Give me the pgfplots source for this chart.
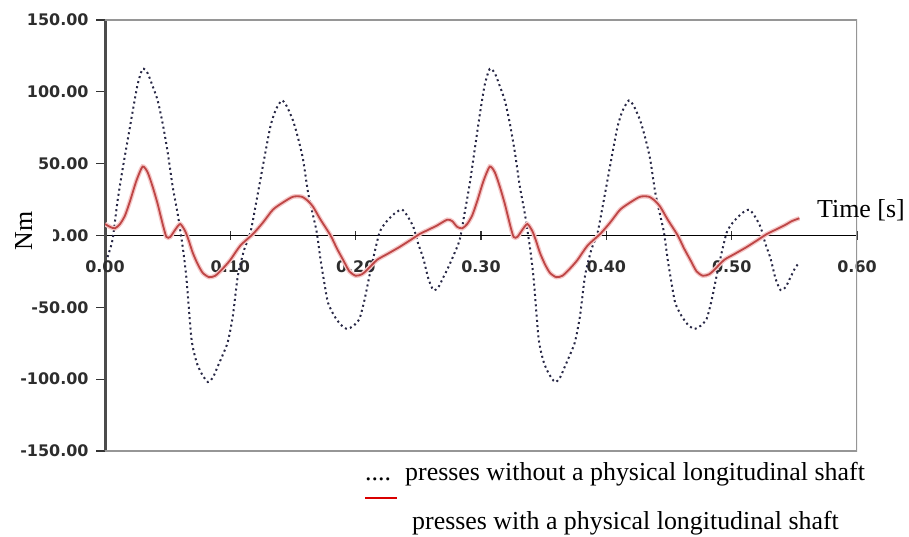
\documentclass[border=0pt]{standalone}
\usepackage{pgfplots}
\pgfplotsset{compat=1.18}
\usepackage{fontspec}
\setmainfont{Liberation Serif}
\newfontfamily\tickfont{DejaVu Sans}
\definecolor{dotcol}{RGB}{40,40,70}
\definecolor{redcol}{RGB}{190,70,70}
\definecolor{halo}{RGB}{245,200,200}
\definecolor{framecol}{RGB}{150,150,150}
\definecolor{tickcol}{RGB}{45,45,45}
\begin{document}
\begin{tikzpicture}[x=1bp,y=1bp]
\begin{axis}[
  at={(105bp,-451bp)}, anchor=south west,
  scale only axis, width=752bp, height=431bp,
  xmin=0, xmax=0.6, ymin=-150, ymax=150,
  axis x line=middle, axis y line=left,
  x axis line style={-, black, line width=1.4bp},
  y axis line style={-, black!70, line width=3bp},
  hide obscured x ticks=false, hide obscured y ticks=false,
  xtick={0,0.1,0.2,0.3,0.4,0.5,0.6},
  ytick={-150,-100,-50,0,50,100,150},
  xtick align=center, ytick align=outside,
  major tick length=9bp,
  tick style={black!80, line width=1.2bp},
  xticklabel style={anchor=center, yshift=-27bp, font=\tickfont\bfseries\fontsize{16}{16}\selectfont, text=tickcol},
  yticklabel style={anchor=east, xshift=-4bp, font=\tickfont\bfseries\fontsize{16}{16}\selectfont, text=tickcol},
  /pgf/number format/.cd, fixed, fixed zerofill, precision=2, assume math mode=true,
]
\draw[framecol, line width=2.2bp] (rel axis cs:0,0) -- (rel axis cs:1,0) -- (rel axis cs:1,1) -- (rel axis cs:0,1);
\addplot[dotcol, line width=2bp, dash pattern=on 2bp off 3.2bp, smooth, tension=0.4] coordinates {
(0.002,-15) (0.006,-3) (0.010,24) (0.014,46) (0.018,66) (0.022,86) (0.026,105) (0.030,116)
(0.034,113) (0.038,104) (0.042,94) (0.046,78) (0.050,58) (0.054,34) (0.058,15) (0.062,-8)
(0.065,-30) (0.069,-72) (0.073,-88) (0.077,-96) (0.082,-102) (0.086,-99) (0.090,-91) (0.094,-83)
(0.098,-74) (0.102,-56) (0.106,-28) (0.111,-10) (0.116,2) (0.120,20) (0.124,39) (0.128,58)
(0.132,76) (0.136,87) (0.141,94) (0.145,90) (0.150,80) (0.154,68) (0.158,53) (0.162,30)
(0.166,14) (0.169,2) (0.172,-17) (0.175,-33) (0.178,-47) (0.183,-56) (0.188,-62) (0.193,-65)
(0.198,-63) (0.203,-58) (0.207,-45) (0.211,-28) (0.215,-12) (0.219,2) (0.223,8) (0.227,12)
(0.232,16) (0.237,18) (0.241,14) (0.246,6) (0.250,-6) (0.254,-16) (0.258,-30) (0.262,-38)
(0.266,-36) (0.270,-29) (0.274,-22) (0.278,-14) (0.283,-3) (0.287,16) (0.291,36) (0.295,60)
(0.299,84) (0.303,105) (0.307,116) (0.311,113) (0.315,104) (0.319,94) (0.323,78) (0.327,58)
(0.331,34) (0.335,15) (0.339,-8) (0.342,-30) (0.346,-72) (0.350,-88) (0.354,-96) (0.359,-102)
(0.363,-99) (0.367,-91) (0.371,-83) (0.375,-74) (0.379,-56) (0.383,-28) (0.388,-10) (0.393,2)
(0.397,20) (0.401,39) (0.405,58) (0.409,76) (0.413,87) (0.418,94) (0.422,90) (0.427,80)
(0.431,68) (0.435,53) (0.439,30) (0.443,14) (0.446,2) (0.449,-17) (0.452,-33) (0.455,-47)
(0.460,-56) (0.465,-62) (0.470,-65) (0.475,-63) (0.480,-58) (0.484,-45) (0.488,-28) (0.492,-12)
(0.496,2) (0.500,8) (0.504,12) (0.509,16) (0.514,18) (0.518,14) (0.523,6) (0.527,-6)
(0.531,-16) (0.535,-30) (0.539,-38) (0.543,-36) (0.547,-29) (0.551,-22) (0.554,-19)
};
\addplot[redcol, line width=1.8bp, smooth, tension=0.4, preaction={draw, halo, line width=4.5bp}] coordinates {
(0.000,8) (0.004,6) (0.008,5) (0.012,8) (0.016,14) (0.020,24) (0.025,38) (0.030,48)
(0.034,44) (0.038,34) (0.042,22) (0.046,8) (0.049,-1) (0.052,-1) (0.056,4) (0.060,8)
(0.064,3) (0.067,-4) (0.070,-12) (0.074,-20) (0.078,-26) (0.083,-29) (0.088,-28) (0.094,-23)
(0.100,-17) (0.108,-7) (0.118,1) (0.126,9) (0.134,18) (0.142,23) (0.150,27) (0.157,27)
(0.162,24) (0.166,20) (0.172,11) (0.180,0) (0.185,-9) (0.190,-17) (0.195,-25) (0.200,-28)
(0.205,-27) (0.209,-24) (0.217,-17) (0.225,-13) (0.235,-8) (0.244,-3) (0.251,1) (0.258,4)
(0.265,7) (0.273,11) (0.277,10) (0.281,6) (0.285,5) (0.289,8) (0.293,14) (0.297,24)
(0.302,38) (0.307,48) (0.311,44) (0.315,34) (0.319,22) (0.323,8) (0.326,-1) (0.329,-1)
(0.333,4) (0.337,8) (0.341,3) (0.344,-4) (0.347,-12) (0.351,-20) (0.355,-26) (0.360,-29)
(0.365,-28) (0.371,-23) (0.377,-17) (0.385,-7) (0.395,1) (0.403,9) (0.411,18) (0.419,23)
(0.427,27) (0.434,27) (0.439,24) (0.443,20) (0.449,11) (0.457,0) (0.462,-9) (0.467,-17)
(0.472,-25) (0.477,-28) (0.482,-27) (0.486,-24) (0.494,-17) (0.502,-13) (0.512,-8) (0.521,-3)
(0.528,1) (0.535,4) (0.542,7) (0.548,10) (0.554,12)
};
\end{axis}
\fill[white] (34,-224) rectangle (53,-249);
\node[rotate=90, anchor=base, inner sep=0, font=\fontsize{26}{26}\selectfont] at (32,-231) {Nm};
\node[anchor=base west, inner sep=0, font=\fontsize{26}{26}\selectfont] at (817,-218) {Time [s]};
\node[anchor=base west, inner sep=0, font=\fontsize{26}{26}\selectfont] at (365,-480) {....};
\node[anchor=base west, inner sep=0, font=\fontsize{26}{26}\selectfont] at (405,-480) {presses without a physical longitudinal shaft};
\draw[red!85!black, line width=2bp] (365,-498) -- (397,-498);
\node[anchor=base west, inner sep=0, font=\fontsize{26}{26}\selectfont] at (412,-529) {presses with a physical longitudinal shaft};
\pgfresetboundingbox
\path[use as bounding box] (0,0) rectangle (909,-537);
\end{tikzpicture}
\end{document}
